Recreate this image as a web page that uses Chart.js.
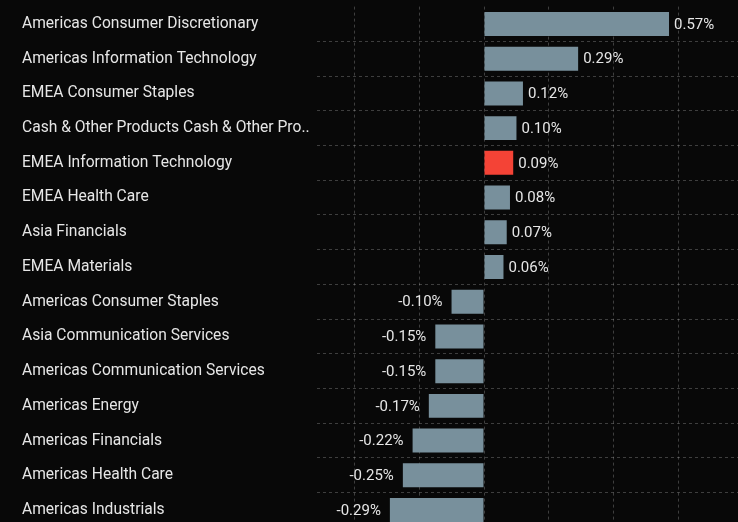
<!DOCTYPE html>
<html>
<head>
<meta charset="utf-8">
<script src="https://cdn.jsdelivr.net/npm/chart.js@4/dist/chart.umd.min.js"></script>
<style>
  html, body { margin: 0; padding: 0; background: #080808; overflow: hidden; }
  #wrap { position: relative; width: 738px; height: 540px; }
</style>
</head>
<body>
<div id="wrap"><canvas id="c" width="738" height="540"></canvas></div>
<script>
const categories = [
  "Americas Consumer Discretionary",
  "Americas Information Technology",
  "EMEA Consumer Staples",
  "Cash & Other Products Cash & Other Pro..",
  "EMEA Information Technology",
  "EMEA Health Care",
  "Asia Financials",
  "EMEA Materials",
  "Americas Consumer Staples",
  "Asia Communication Services",
  "Americas Communication Services",
  "Americas Energy",
  "Americas Financials",
  "Americas Health Care",
  "Americas Industrials"
];
const values = [0.57, 0.29, 0.12, 0.10, 0.09, 0.08, 0.07, 0.06, -0.10, -0.15, -0.15, -0.17, -0.22, -0.25, -0.29];
const highlighted = ["EMEA Information Technology"];
const xTicks = [-0.4, -0.2, 0, 0.2, 0.4, 0.6];

const FONT = "Roboto, 'Noto Sans', sans-serif";
const barColor = '#78909c';
const highlightColor = '#f44336';
const gridColor = 'rgba(255,255,255,0.22)';

const valueLabels = {
  id: 'valueLabels',
  afterDatasetsDraw(chart) {
    const ctx = chart.ctx;
    const meta = chart.getDatasetMeta(0);
    ctx.save();
    ctx.font = '15px ' + FONT;
    ctx.fillStyle = '#e6e6e6';
    ctx.textBaseline = 'middle';
    meta.data.forEach((bar, i) => {
      const v = values[i];
      const txt = v.toFixed(2) + '%';
      if (v >= 0) {
        ctx.textAlign = 'left';
        ctx.fillText(txt, bar.x + 5, bar.y + 1);
      } else {
        ctx.textAlign = 'right';
        ctx.fillText(txt, bar.x - 9, bar.y + 1);
      }
    });
    ctx.restore();
  }
};

new Chart(document.getElementById('c'), {
  type: 'bar',
  data: {
    labels: categories,
    datasets: [{
      data: values,
      backgroundColor: categories.map(c => highlighted.includes(c) ? highlightColor : barColor),
      borderWidth: 0,
      barPercentage: 0.69,
      categoryPercentage: 1
    }]
  },
  options: {
    indexAxis: 'y',
    responsive: false,
    animation: false,
    devicePixelRatio: 1,
    layout: { padding: { left: 22, top: 6.6, right: 0, bottom: 12.6 } },
    plugins: { legend: { display: false }, tooltip: { enabled: false } },
    scales: {
      x: {
        min: -0.5145,
        max: 0.7825,
        afterBuildTicks(scale) { scale.ticks = xTicks.map(v => ({ value: v })); },
        afterFit(scale) { scale.height = 0; scale.paddingLeft = 0; scale.paddingRight = 0; },
        ticks: { display: false },
        border: { display: false, dash: [3, 3] },
        grid: { color: gridColor, drawTicks: false }
      },
      y: {
        afterFit(scale) { scale.width = 295; scale.paddingTop = 0; scale.paddingBottom = 0; },
        border: { display: false, dash: [3, 3] },
        grid: {
          drawTicks: false,
          color: (ctx) => (ctx.index === 0 ? 'rgba(0,0,0,0)' : gridColor)
        },
        ticks: {
          crossAlign: 'far',
          color: '#e6e6e6',
          font: { family: FONT, size: 15.6, lineHeight: 1.0 },
          autoSkip: false
        }
      }
    }
  },
  plugins: [valueLabels]
});
</script>
</body>
</html>
